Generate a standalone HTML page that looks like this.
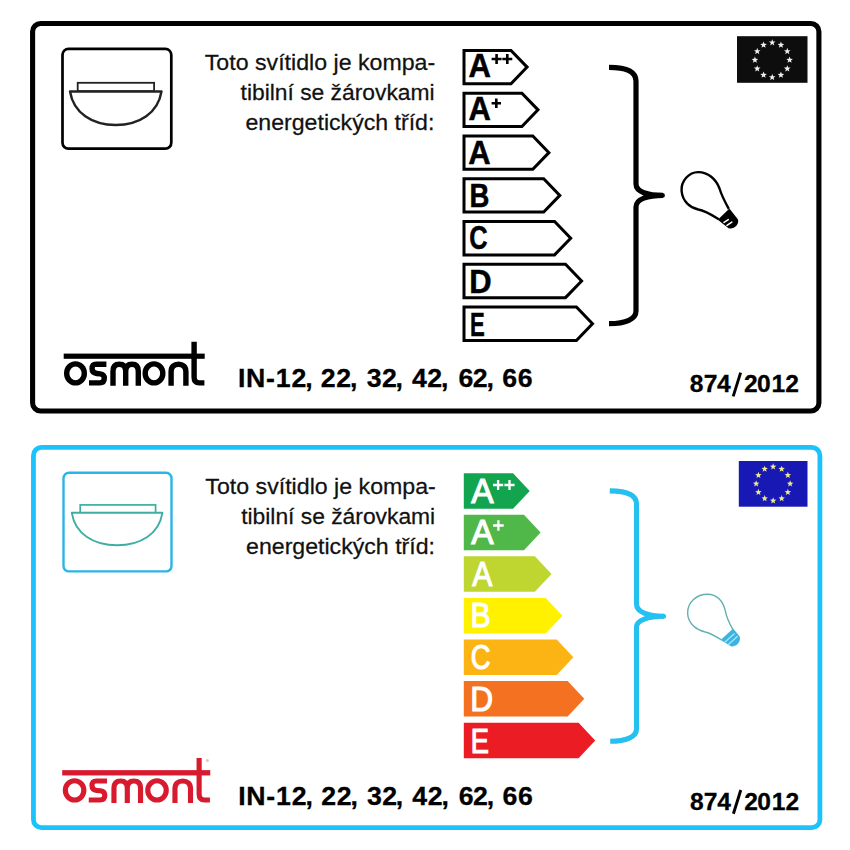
<!DOCTYPE html>
<html><head><meta charset="utf-8"><style>
html,body{margin:0;padding:0;background:#fff;width:850px;height:850px;overflow:hidden}
svg{display:block}
</style></head><body>
<svg width="850" height="850" viewBox="0 0 850 850">
<rect x="32.6" y="23.5" width="786.3" height="387.5" rx="8" ry="8" fill="none" stroke="#000" stroke-width="5.1"/>
<rect x="62.5" y="48.9" width="108.8" height="99.8" rx="6" fill="none" stroke="#000" stroke-width="2.7"/>
<rect x="77.7" y="82.8" width="76.4" height="8.4" fill="none" stroke="#222" stroke-width="1.8"/>
<path d="M70 91.4 L161.5 91.4 C158 113 139.5 125 115.75 125 C92 125 73.5 113 70 91.4 Z" fill="#fff" stroke="#222" stroke-width="2.5" stroke-linejoin="round"/>
<text transform="translate(435.20 69.70) scale(1.0538 1)" font-family='"Liberation Sans", sans-serif' font-size="22" text-anchor="end" fill="#111" stroke="#111" stroke-width="0.25">Toto svítidlo je kompa-</text><text transform="translate(434.60 99.60) scale(1.0381 1)" font-family='"Liberation Sans", sans-serif' font-size="22" text-anchor="end" fill="#111" stroke="#111" stroke-width="0.25">tibilní se žárovkami</text><text transform="translate(434.40 129.70) scale(1.0517 1)" font-family='"Liberation Sans", sans-serif' font-size="22" text-anchor="end" fill="#111" stroke="#111" stroke-width="0.25">energetických tříd:</text>
<path d="M464.0 50.40 L511.00 50.40 L527.10 67.10 L511.00 83.80 L464.0 83.80 Z" fill="#fff" stroke="#000" stroke-width="3.0" stroke-linejoin="miter"/>
<text transform="translate(468.40 77.40) scale(0.9523 1)" font-family='"Liberation Sans", sans-serif' font-size="32.6" font-weight="bold" fill="#000" stroke="#000" stroke-width="0.5">A</text>
<path d="M491.60 57.70 H501.60 V60.30 H491.60 Z M495.30 54.00 H497.90 V64.00 H495.30 Z" fill="#000"/>
<path d="M502.30 57.70 H512.30 V60.30 H502.30 Z M506.00 54.00 H508.60 V64.00 H506.00 Z" fill="#000"/>
<path d="M464.0 93.17 L521.90 93.17 L538.00 109.87 L521.90 126.57 L464.0 126.57 Z" fill="#fff" stroke="#000" stroke-width="3.0" stroke-linejoin="miter"/>
<text transform="translate(468.45 120.00) scale(0.9500 1)" font-family='"Liberation Sans", sans-serif' font-size="32.6" font-weight="bold" fill="#000" stroke="#000" stroke-width="0.5">A</text>
<path d="M491.60 101.90 H501.00 V104.50 H491.60 Z M495.00 98.50 H497.60 V107.90 H495.00 Z" fill="#000"/>
<path d="M464.0 135.94 L532.80 135.94 L548.90 152.64 L532.80 169.34 L464.0 169.34 Z" fill="#fff" stroke="#000" stroke-width="3.0" stroke-linejoin="miter"/>
<text transform="translate(468.25 163.70) scale(0.9500 1)" font-family='"Liberation Sans", sans-serif' font-size="32.6" font-weight="bold" fill="#000" stroke="#000" stroke-width="0.5">A</text>
<path d="M464.0 178.71 L543.70 178.71 L559.80 195.41 L543.70 212.11 L464.0 212.11 Z" fill="#fff" stroke="#000" stroke-width="3.0" stroke-linejoin="miter"/>
<text transform="translate(469.41 206.60) scale(0.8450 1)" font-family='"Liberation Sans", sans-serif' font-size="32.6" font-weight="bold" fill="#000" stroke="#000" stroke-width="0.5">B</text>
<path d="M464.0 221.48 L554.60 221.48 L570.70 238.18 L554.60 254.88 L464.0 254.88 Z" fill="#fff" stroke="#000" stroke-width="3.0" stroke-linejoin="miter"/>
<text transform="translate(469.32 248.80) scale(0.7818 1)" font-family='"Liberation Sans", sans-serif' font-size="32.6" font-weight="bold" fill="#000" stroke="#000" stroke-width="0.5">C</text>
<path d="M464.0 264.25 L565.50 264.25 L581.60 280.95 L565.50 297.65 L464.0 297.65 Z" fill="#fff" stroke="#000" stroke-width="3.0" stroke-linejoin="miter"/>
<text transform="translate(469.20 293.00) scale(0.9500 1)" font-family='"Liberation Sans", sans-serif' font-size="32.6" font-weight="bold" fill="#000" stroke="#000" stroke-width="0.5">D</text>
<path d="M464.0 307.02 L576.40 307.02 L592.50 323.72 L576.40 340.42 L464.0 340.42 Z" fill="#fff" stroke="#000" stroke-width="3.0" stroke-linejoin="miter"/>
<text transform="translate(470.04 335.60) scale(0.6789 1)" font-family='"Liberation Sans", sans-serif' font-size="32.6" font-weight="bold" fill="#000" stroke="#000" stroke-width="0.5">E</text>
<path d="M609 67.3 C626 67.3 636 71 636 81 L636 184 C636 192 648 195.4 663 195.4 M663 195.4 C648 195.4 636 199 636 207 L636 311 C636 319 626 323.7 609 323.7" fill="none" stroke="#000" stroke-width="5.2"/>
<circle cx="662.5" cy="195.4" r="2.4" fill="#000"/>
<path d="M718.8 219.3 C712 215 705 210.5 698.3 209.5 C691 208 682.5 202 681.6 191 C680.8 181 689 172 698.3 172.1 C708 172.2 716 179 719.5 188.5 C721.5 195 725 202 728.8 208.8" fill="none" stroke="#000" stroke-width="2.4"/>
<path d="M717.8 219.8 L729.4 208.4 L737.8 219.2 C740 224 733.5 230 728.5 228.2 Z" fill="#000"/>
<path d="M724 222.4 L728.3 219.6 M727 225.3 L731.8 222.2" stroke="#fff" stroke-width="1.6" stroke-linecap="round"/>
<rect x="737" y="36.2" width="70.5" height="46.6" fill="#0d0d0d"/><polygon points="772.25,39.15 773.11,41.46 775.58,41.57 773.65,43.10 774.31,45.48 772.25,44.12 770.19,45.48 770.85,43.10 768.92,41.57 771.39,41.46" fill="#f0f0f0"/><polygon points="780.92,41.47 781.79,43.79 784.25,43.89 782.32,45.43 782.98,47.81 780.92,46.44 778.87,47.81 779.53,45.43 777.60,43.89 780.06,43.79" fill="#f0f0f0"/><polygon points="787.28,47.82 788.14,50.14 790.60,50.24 788.67,51.78 789.33,54.16 787.28,52.79 785.22,54.16 785.88,51.78 783.95,50.24 786.41,50.14" fill="#f0f0f0"/><polygon points="789.60,56.50 790.46,58.81 792.93,58.92 791.00,60.45 791.66,62.83 789.60,61.47 787.54,62.83 788.20,60.45 786.27,58.92 788.74,58.81" fill="#f0f0f0"/><polygon points="787.28,65.17 788.14,67.49 790.60,67.59 788.67,69.13 789.33,71.51 787.28,70.14 785.22,71.51 785.88,69.13 783.95,67.59 786.41,67.49" fill="#f0f0f0"/><polygon points="780.92,71.53 781.79,73.84 784.25,73.94 782.32,75.48 782.98,77.86 780.92,76.50 778.87,77.86 779.53,75.48 777.60,73.94 780.06,73.84" fill="#f0f0f0"/><polygon points="772.25,73.85 773.11,76.16 775.58,76.27 773.65,77.80 774.31,80.18 772.25,78.82 770.19,80.18 770.85,77.80 768.92,76.27 771.39,76.16" fill="#f0f0f0"/><polygon points="763.58,71.53 764.44,73.84 766.90,73.94 764.97,75.48 765.63,77.86 763.58,76.50 761.52,77.86 762.18,75.48 760.25,73.94 762.71,73.84" fill="#f0f0f0"/><polygon points="757.22,65.18 758.09,67.49 760.55,67.59 758.62,69.13 759.28,71.51 757.22,70.15 755.17,71.51 755.83,69.13 753.90,67.59 756.36,67.49" fill="#f0f0f0"/><polygon points="754.90,56.50 755.76,58.81 758.23,58.92 756.30,60.45 756.96,62.83 754.90,61.47 752.84,62.83 753.50,60.45 751.57,58.92 754.04,58.81" fill="#f0f0f0"/><polygon points="757.22,47.82 758.09,50.14 760.55,50.24 758.62,51.78 759.28,54.16 757.22,52.79 755.17,54.16 755.83,51.78 753.90,50.24 756.36,50.14" fill="#f0f0f0"/><polygon points="763.58,41.47 764.44,43.79 766.90,43.89 764.97,45.43 765.63,47.81 763.58,46.44 761.52,47.81 762.18,45.43 760.25,43.89 762.71,43.79" fill="#f0f0f0"/>
<g transform="translate(63.7 361.5) scale(1.0 1.0)" fill="none" stroke="#000" stroke-width="5.4"><ellipse cx="11.8" cy="11.9" rx="8.8" ry="9.5"/><path d="M42.7 2.7 L32.5 2.7 C29.2 2.7 28.4 4.5 28.4 7.3 C28.4 10.3 30 11.6 33 12 L36.5 12.4 C39.5 12.8 40.6 14.4 40.6 16.8 C40.6 19.8 39 21.4 36 21.4 L25.3 21.4"/><path d="M49.3 24.2 L49.3 9.7 C49.3 4.8 51.5 2.7 55.6 2.7 C59.7 2.7 62 4.8 62 9.7 L62 24.2 M62 9.7 C62 4.8 64.2 2.7 68.3 2.7 C72.4 2.7 74.6 4.8 74.6 9.7 L74.6 24.2"/><ellipse cx="90.3" cy="11.9" rx="8.8" ry="9.5"/><path d="M107.4 24.2 L107.4 10.2 C107.4 5 110.5 2.7 114.8 2.7 C119.1 2.7 122.2 5 122.2 10.2 L122.2 24.2"/><path d="M130.4 -19.8 L130.4 15.5 C130.4 19.5 132 21.4 135.5 21.4 L140.7 21.4"/><rect x="0" y="-7.9" width="141" height="5.2" fill="#000" stroke="none"/></g>
<text x="238.01 246.01 266.06 275.72 291.57 305.29 320.87 336.37 350.09 366.79 381.97 395.39 411.90 427.37 441.09 458.42 472.67 486.39 502.32 517.82" y="387.30" font-family='"Liberation Sans", sans-serif' font-size="26.7" font-weight="bold" fill="#000" stroke="#000" stroke-width="0.3">IN-12,22,32,42,62,66</text>
<text x="689.82 703.64 717.03" y="392.40" font-family='"Liberation Sans", sans-serif' font-size="24.6" font-weight="bold" fill="#000" stroke="#000" stroke-width="0.3">874</text><text x="743.95 756.93 771.55 785.25" y="392.40" font-family='"Liberation Sans", sans-serif' font-size="24.6" font-weight="bold" fill="#000" stroke="#000" stroke-width="0.3">2012</text><path d="M733.20 396.40 L740.60 372.60" stroke="#000" stroke-width="2.9"/>
<rect x="33.45" y="447.45" width="786.45" height="380.2" rx="8" ry="8" fill="none" stroke="#1cc3fa" stroke-width="4.8"/>
<rect x="63.5" y="472.8" width="108" height="98.6" rx="5.5" fill="none" stroke="#2bb5e6" stroke-width="2.4"/>
<rect x="80.2" y="504.9" width="75.4" height="7.9" fill="none" stroke="#3eaea2" stroke-width="1.7"/>
<path d="M71.8 512.8 L162.4 512.8 C159 534 140.5 545.3 117.1 545.3 C93.7 545.3 75.2 534 71.8 512.8 Z" fill="#fff" stroke="#3eaea2" stroke-width="1.9" stroke-linejoin="round"/>
<text transform="translate(435.80 494.00) scale(1.0538 1)" font-family='"Liberation Sans", sans-serif' font-size="22" text-anchor="end" fill="#111" stroke="#111" stroke-width="0.25">Toto svítidlo je kompa-</text><text transform="translate(435.20 523.90) scale(1.0381 1)" font-family='"Liberation Sans", sans-serif' font-size="22" text-anchor="end" fill="#111" stroke="#111" stroke-width="0.25">tibilní se žárovkami</text><text transform="translate(435.00 554.00) scale(1.0517 1)" font-family='"Liberation Sans", sans-serif' font-size="22" text-anchor="end" fill="#111" stroke="#111" stroke-width="0.25">energetických tříd:</text>
<path d="M463.8 473.20 L513.05 473.20 L529.70 490.95 L513.05 508.70 L463.8 508.70 Z" fill="#12a44e"/>
<text transform="translate(471.20 502.90) scale(0.9565 1)" font-family='"Liberation Sans", sans-serif' font-size="35" fill="#fff" stroke="#fff" stroke-width="1.15">A</text>
<path d="M493.00 483.85 H503.20 V486.15 H493.00 Z M496.95 479.90 H499.25 V490.10 H496.95 Z" fill="#fff"/>
<path d="M504.40 483.85 H514.60 V486.15 H504.40 Z M508.35 479.90 H510.65 V490.10 H508.35 Z" fill="#fff"/>
<path d="M463.8 514.78 L523.97 514.78 L540.62 532.53 L523.97 550.28 L463.8 550.28 Z" fill="#4fb848"/>
<text transform="translate(471.20 544.10) scale(0.9565 1)" font-family='"Liberation Sans", sans-serif' font-size="35" fill="#fff" stroke="#fff" stroke-width="1.15">A</text>
<path d="M493.10 524.35 H503.70 V526.65 H493.10 Z M497.25 520.20 H499.55 V530.80 H497.25 Z" fill="#fff"/>
<path d="M463.8 556.36 L534.89 556.36 L551.54 574.11 L534.89 591.86 L463.8 591.86 Z" fill="#bed62f"/>
<text transform="translate(472.20 585.70) scale(0.8609 1)" font-family='"Liberation Sans", sans-serif' font-size="35" fill="#fff" stroke="#fff" stroke-width="1.15">A</text>
<path d="M463.8 597.94 L545.81 597.94 L562.46 615.69 L545.81 633.44 L463.8 633.44 Z" fill="#fff100"/>
<text transform="translate(470.41 627.20) scale(0.8632 1)" font-family='"Liberation Sans", sans-serif' font-size="35" fill="#fff" stroke="#fff" stroke-width="1.15">B</text>
<path d="M463.8 639.52 L556.73 639.52 L573.38 657.27 L556.73 675.02 L463.8 675.02 Z" fill="#fcb415"/>
<text transform="translate(470.64 669.30) scale(0.7818 1)" font-family='"Liberation Sans", sans-serif' font-size="35" fill="#fff" stroke="#fff" stroke-width="1.15">C</text>
<path d="M463.8 681.10 L567.65 681.10 L584.30 698.85 L567.65 716.60 L463.8 716.60 Z" fill="#f37121"/>
<text transform="translate(470.29 711.40) scale(0.9048 1)" font-family='"Liberation Sans", sans-serif' font-size="35" fill="#fff" stroke="#fff" stroke-width="1.15">D</text>
<path d="M463.8 722.68 L578.57 722.68 L595.22 740.43 L578.57 758.18 L463.8 758.18 Z" fill="#ec1c24"/>
<text transform="translate(470.66 753.00) scale(0.7789 1)" font-family='"Liberation Sans", sans-serif' font-size="35" fill="#fff" stroke="#fff" stroke-width="1.15">E</text>
<path d="M609.8 490.9 C626 490.9 636.5 494 636.5 504 L636.5 604 C636.5 612 648 616.3 664 616.3 M664 616.3 C648 616.3 636.5 620 636.5 627 L636.5 729 C636.5 737 626 741.3 610.2 741.3" fill="none" stroke="#24c0f0" stroke-width="5.1"/>
<circle cx="663.5" cy="616.3" r="2.5" fill="#24c0f0"/>
<path d="M721.3 639.7 C715 636 710 633 705.2 632 C697 630 688 624 687.6 613.3 C687.3 602 697 594.2 707.5 594.2 C717 594.2 723 601 725.1 610.2 C726.5 617 729 623 732.8 629.3" fill="none" stroke="#62b0b0" stroke-width="1.4"/>
<path d="M720.6 640 L733.2 628.6 L739.8 636.8 C741.2 641.5 736 647.5 731 646.2 Z" fill="#3db4e0"/>
<path d="M724.5 642.6 L734.5 633.6 M727.8 645 L737.6 636.2" stroke="#a2e8fa" stroke-width="1.3"/>
<rect x="738.8" y="461" width="68.7" height="45.7" fill="#1818b4"/><polygon points="773.15,463.35 773.99,465.59 776.38,465.70 774.51,467.19 775.15,469.50 773.15,468.18 771.15,469.50 771.79,467.19 769.92,465.70 772.31,465.59" fill="#ece98e"/><polygon points="781.65,465.63 782.49,467.87 784.88,467.98 783.01,469.47 783.65,471.78 781.65,470.46 779.65,471.78 780.29,469.47 778.42,467.98 780.81,467.87" fill="#ece98e"/><polygon points="787.87,471.85 788.71,474.09 791.11,474.20 789.23,475.69 789.87,478.00 787.87,476.68 785.87,478.00 786.51,475.69 784.64,474.20 787.03,474.09" fill="#ece98e"/><polygon points="790.15,480.35 790.99,482.59 793.38,482.70 791.51,484.19 792.15,486.50 790.15,485.18 788.15,486.50 788.79,484.19 786.92,482.70 789.31,482.59" fill="#ece98e"/><polygon points="787.87,488.85 788.71,491.09 791.11,491.20 789.23,492.69 789.87,495.00 787.87,493.68 785.87,495.00 786.51,492.69 784.64,491.20 787.03,491.09" fill="#ece98e"/><polygon points="781.65,495.07 782.49,497.32 784.88,497.42 783.01,498.91 783.65,501.22 781.65,499.90 779.65,501.22 780.29,498.91 778.42,497.42 780.81,497.32" fill="#ece98e"/><polygon points="773.15,497.35 773.99,499.59 776.38,499.70 774.51,501.19 775.15,503.50 773.15,502.18 771.15,503.50 771.79,501.19 769.92,499.70 772.31,499.59" fill="#ece98e"/><polygon points="764.65,495.07 765.49,497.32 767.88,497.42 766.01,498.91 766.65,501.22 764.65,499.90 762.65,501.22 763.29,498.91 761.42,497.42 763.81,497.32" fill="#ece98e"/><polygon points="758.43,488.85 759.27,491.09 761.66,491.20 759.79,492.69 760.43,495.00 758.43,493.68 756.43,495.00 757.07,492.69 755.19,491.20 757.59,491.09" fill="#ece98e"/><polygon points="756.15,480.35 756.99,482.59 759.38,482.70 757.51,484.19 758.15,486.50 756.15,485.18 754.15,486.50 754.79,484.19 752.92,482.70 755.31,482.59" fill="#ece98e"/><polygon points="758.43,471.85 759.27,474.09 761.66,474.20 759.79,475.69 760.43,478.00 758.43,476.68 756.43,478.00 757.07,475.69 755.19,474.20 757.59,474.09" fill="#ece98e"/><polygon points="764.65,465.63 765.49,467.87 767.88,467.98 766.01,469.47 766.65,471.78 764.65,470.46 762.65,471.78 763.29,469.47 761.42,467.98 763.81,467.87" fill="#ece98e"/>
<g transform="translate(62.2 778.2) scale(1.05 1.02)" fill="none" stroke="#d81a2e" stroke-width="4.9"><ellipse cx="11.8" cy="11.9" rx="8.8" ry="9.5"/><path d="M42.7 2.7 L32.5 2.7 C29.2 2.7 28.4 4.5 28.4 7.3 C28.4 10.3 30 11.6 33 12 L36.5 12.4 C39.5 12.8 40.6 14.4 40.6 16.8 C40.6 19.8 39 21.4 36 21.4 L25.3 21.4"/><path d="M49.3 24.2 L49.3 9.7 C49.3 4.8 51.5 2.7 55.6 2.7 C59.7 2.7 62 4.8 62 9.7 L62 24.2 M62 9.7 C62 4.8 64.2 2.7 68.3 2.7 C72.4 2.7 74.6 4.8 74.6 9.7 L74.6 24.2"/><ellipse cx="90.3" cy="11.9" rx="8.8" ry="9.5"/><path d="M107.4 24.2 L107.4 10.2 C107.4 5 110.5 2.7 114.8 2.7 C119.1 2.7 122.2 5 122.2 10.2 L122.2 24.2"/><path d="M130.4 -19.8 L130.4 15.5 C130.4 19.5 132 21.4 135.5 21.4 L140.7 21.4"/><rect x="0" y="-7.9" width="141" height="5.2" fill="#d81a2e" stroke="none"/></g>
<circle cx="207.4" cy="760.4" r="1.5" fill="#ecc0c4"/>
<text x="238.31 246.31 266.36 276.02 291.87 305.59 321.17 336.67 350.39 367.09 382.27 395.69 412.20 427.67 441.39 458.72 472.97 486.69 502.62 518.12" y="804.90" font-family='"Liberation Sans", sans-serif' font-size="26.7" font-weight="bold" fill="#000" stroke="#000" stroke-width="0.3">IN-12,22,32,42,62,66</text>
<text x="690.02 703.84 717.23" y="809.80" font-family='"Liberation Sans", sans-serif' font-size="24.6" font-weight="bold" fill="#000" stroke="#000" stroke-width="0.3">874</text><text x="744.15 757.13 771.75 785.45" y="809.80" font-family='"Liberation Sans", sans-serif' font-size="24.6" font-weight="bold" fill="#000" stroke="#000" stroke-width="0.3">2012</text><path d="M733.40 813.80 L740.80 790.00" stroke="#000" stroke-width="2.9"/>
</svg>
</body></html>
